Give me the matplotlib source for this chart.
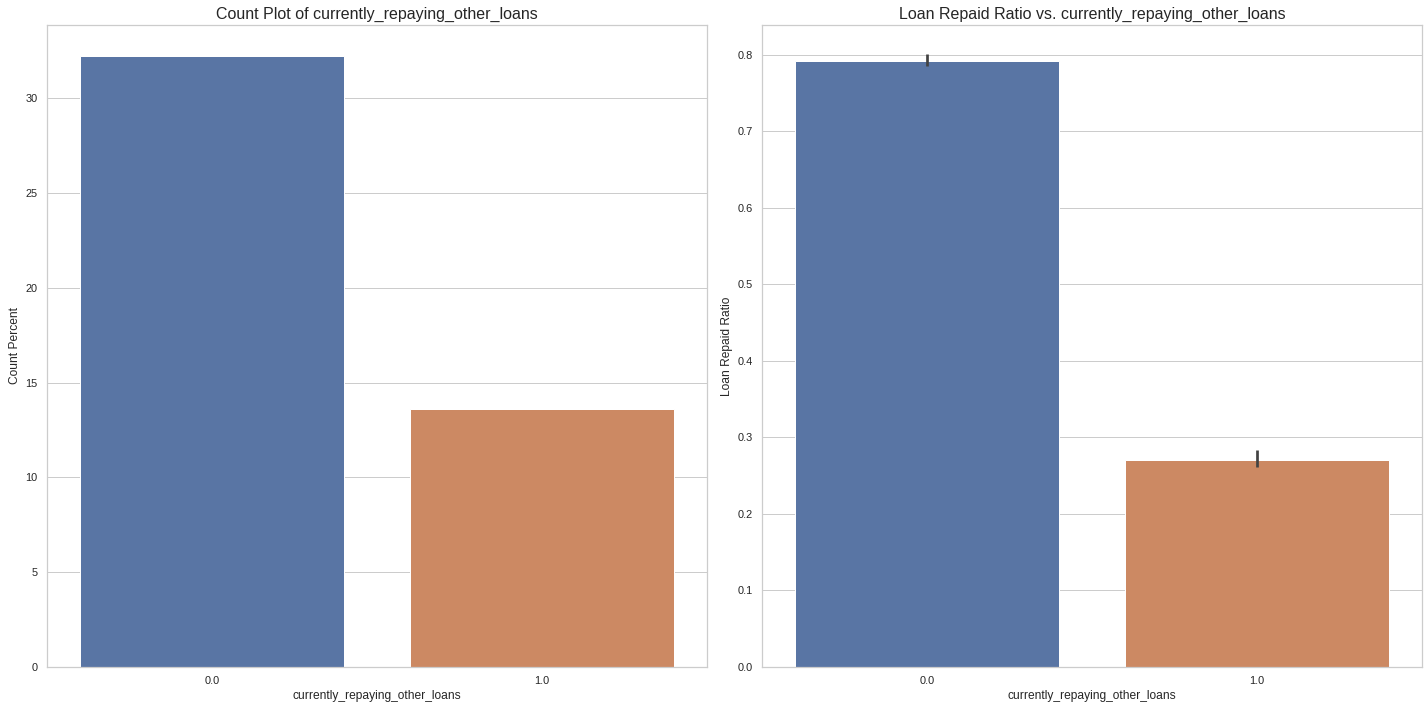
import numpy as np
import matplotlib
matplotlib.use('Agg')
import matplotlib.pyplot as plt
import seaborn as sns

categories = ['0.0', '1.0']
count_percent = [32.2, 13.6]
repaid_ratio = [0.792, 0.270]
ratio_ci_low = [0.786, 0.261]
ratio_ci_high = [0.801, 0.284]
bar_colors = ['#5975A4', '#CC8963']

sns.set_theme(style='whitegrid')
plt.rcParams['font.family'] = ['Liberation Sans', 'DejaVu Sans']

fig = plt.figure(figsize=(1428/72, 708/72), dpi=72)
ax1 = fig.add_subplot(121)
ax2 = fig.add_subplot(122)

x = np.arange(len(categories))

ax1.bar(x, count_percent, width=0.8, color=bar_colors)
ax1.set_xticks(x)
ax1.set_xticklabels(categories)
ax1.set_xlim(-0.5, 1.5)
ax1.set_ylim(0, 33.85)
ax1.set_xlabel('currently_repaying_other_loans', fontsize=12)
ax1.set_ylabel('Count Percent', fontsize=12)
ax1.set_title('Count Plot of currently_repaying_other_loans', fontsize=16)

ax2.bar(x, repaid_ratio, width=0.8, color=bar_colors)
ax2.vlines(x, ratio_ci_low, ratio_ci_high, color='.26', lw=2.7)
ax2.set_xticks(x)
ax2.set_xticklabels(categories)
ax2.set_xlim(-0.5, 1.5)
ax2.set_ylim(0, 0.839)
ax2.set_xlabel('currently_repaying_other_loans', fontsize=12)
ax2.set_ylabel('Loan Repaid Ratio', fontsize=12)
ax2.set_title('Loan Repaid Ratio vs. currently_repaying_other_loans', fontsize=16)

for ax in (ax1, ax2):
    ax.xaxis.grid(False)
    ax.set_axisbelow(True)

plt.subplots_adjust(left=47/1428, right=1422/1428, top=1-25/708,
                    bottom=1-667/708, wspace=55/660)
plt.savefig('out.png', dpi=72)
